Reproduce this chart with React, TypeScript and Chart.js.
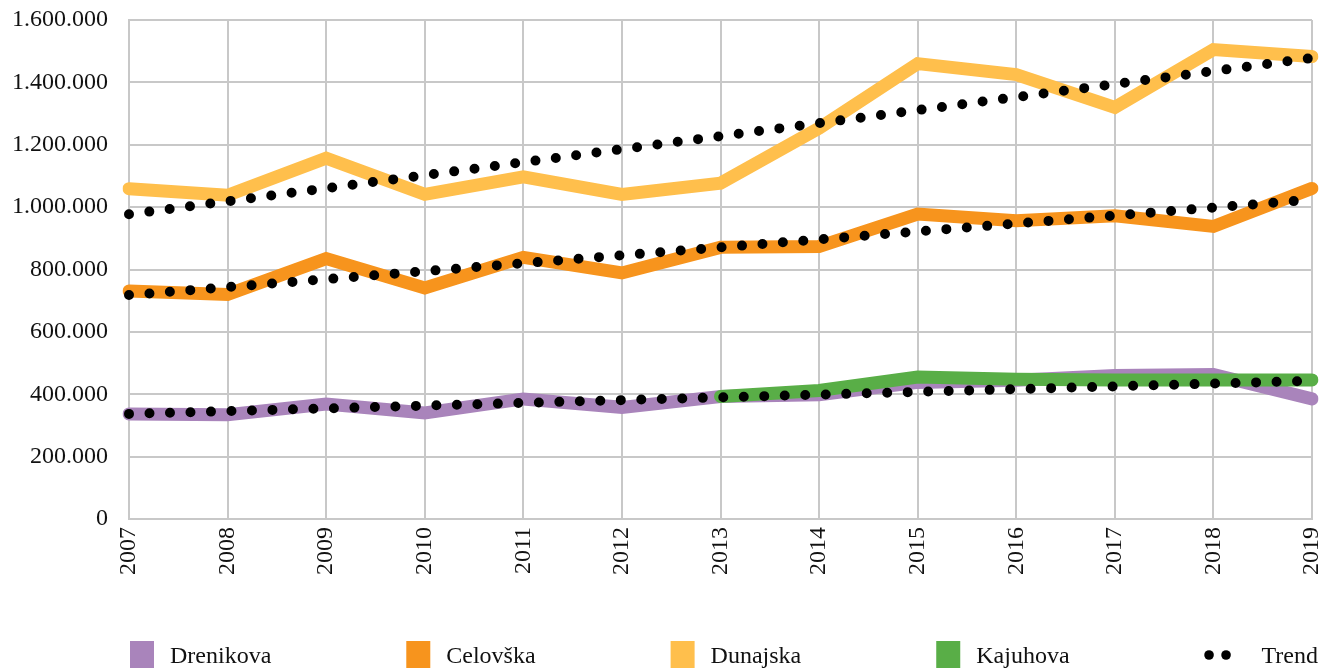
import React, { useEffect, useRef } from 'react';
import { Chart, registerables } from 'chart.js';

Chart.register(...registerables);

// ---- Data ----
const years = ['2007', '2008', '2009', '2010', '2011', '2012', '2013', '2014', '2015', '2016', '2017', '2018', '2019'];
const drenikova = [337000, 334000, 369000, 340000, 385000, 358000, 393000, 398000, 438000, 445000, 460000, 463000, 385000];
const celovska = [731000, 720000, 835000, 741000, 839000, 789000, 871000, 874000, 978000, 956000, 972000, 938000, 1060000];
const dunajska = [1059000, 1038000, 1157000, 1041000, 1097000, 1041000, 1077000, 1253000, 1460000, 1425000, 1320000, 1505000, 1483000];
const kajuhova = [null, null, null, null, null, null, 393000, 412000, 455000, 448000, 446000, 446000, 446000];
// linear trend lines: start (2007) and end (2019) values
const trendDunajska = [977000, null, null, null, null, null, null, null, null, null, null, null, 1478000];
const trendCelovska = [718000, null, null, null, null, null, null, null, null, null, null, null, 1024000];
const trendDrenikova = [337000, null, null, null, null, null, null, null, null, null, null, null, 443000];

const yMin = 0;
const yMax = 1600000;
const yStep = 200000;

const seriesNames = ['Drenikova', 'Celovška', 'Dunajska', 'Kajuhova'];
const seriesColors = ['#A984BB', '#F7941D', '#FFBF4C', '#59AE47'];
const trendName = 'Trend';

const FONT = '"Liberation Serif", "Times New Roman", serif';
const TEXT = '#111111';
const GRID = '#C8C8C8';

const fmt = (v: number) => String(Math.round(v)).replace(/\B(?=(\d{3})+(?!\d))/g, '.');

const legendPlugin = {
  id: 'bottomLegend',
  afterDraw(chart: any) {
    const ctx = chart.ctx as CanvasRenderingContext2D;
    ctx.save();
    ctx.font = `24px ${FONT}`;
    const items = [
      ...seriesNames.map((n, i) => ({ label: n, color: seriesColors[i], kind: 'box', symW: 24, gap: 16 })),
      { label: trendName, color: '#000', kind: 'dots', symW: 27, gap: 30 },
    ];
    const widths = items.map((it) => it.symW + it.gap + ctx.measureText(it.label).width);
    const total = widths.reduce((a, b) => a + b, 0);
    const left = chart.chartArea.left + 1;
    const right = chart.width - 4;
    const spacing = (right - left - total) / (items.length - 1);
    let x = left;
    const top = 641;
    const baseline = 663;
    items.forEach((it, i) => {
      if (it.kind === 'box') {
        ctx.fillStyle = it.color;
        ctx.fillRect(x, top, 24, 27);
      } else {
        ctx.fillStyle = it.color;
        [4.5, 21.5].forEach((dx) => {
          ctx.beginPath();
          ctx.arc(x + dx, 655, 4.8, 0, Math.PI * 2);
          ctx.fill();
        });
      }
      ctx.fillStyle = TEXT;
      ctx.textBaseline = 'alphabetic';
      ctx.textAlign = 'left';
      ctx.fillText(it.label, x + it.symW + it.gap, baseline);
      x += widths[i] + spacing;
    });
    ctx.restore();
  },
};

const lineDs = (label: string, data: (number | null)[], color: string, order: number) => ({
  label,
  data,
  borderColor: color,
  backgroundColor: color,
  borderWidth: 13,
  borderCapStyle: 'round' as const,
  borderJoinStyle: 'miter' as const,
  pointRadius: 0,
  pointHoverRadius: 0,
  tension: 0,
  fill: false,
  spanGaps: false,
  order,
});

const trendDs = (label: string, data: (number | null)[]) => ({
  label,
  data,
  borderColor: '#000000',
  backgroundColor: '#000000',
  borderWidth: 10,
  borderCapStyle: 'round' as const,
  borderDash: [0, 20.5],
  pointRadius: 0,
  pointHoverRadius: 0,
  tension: 0,
  fill: false,
  spanGaps: true,
  order: 0,
});

export default function App() {
  const ref = useRef<HTMLCanvasElement | null>(null);

  useEffect(() => {
    if (!ref.current) return;
    const chart = new Chart(ref.current, {
      type: 'line',
      data: {
        labels: years,
        datasets: [
          trendDs('Trend Dunajska', trendDunajska),
          trendDs('Trend Celovška', trendCelovska),
          trendDs('Trend Drenikova', trendDrenikova),
          lineDs(seriesNames[3], kajuhova, seriesColors[3], 1),
          lineDs(seriesNames[2], dunajska, seriesColors[2], 2),
          lineDs(seriesNames[1], celovska, seriesColors[1], 3),
          lineDs(seriesNames[0], drenikova, seriesColors[0], 4),
        ] as any,
      },
      options: {
        animation: false,
        responsive: false,
        layout: { padding: { top: 20, right: 10, left: 0, bottom: 0 } },
        plugins: {
          legend: { display: false },
          tooltip: { enabled: false },
        },
        scales: {
          x: {
            offset: false,
            grid: { color: GRID, lineWidth: 2, drawTicks: false },
            border: { color: GRID, width: 2 },
            ticks: {
              color: TEXT,
              font: { family: FONT, size: 24 },
              minRotation: 90,
              maxRotation: 90,
              padding: 8,
              autoSkip: false,
            },
            afterFit: (scale: any) => {
              scale.height = 149;
              scale.paddingRight = 0;
              scale.paddingLeft = 0;
            },
          },
          y: {
            min: yMin,
            max: yMax,
            grid: { color: GRID, lineWidth: 2, drawTicks: false },
            border: { color: GRID, width: 2 },
            ticks: {
              stepSize: yStep,
              color: TEXT,
              font: { family: FONT, size: 24 },
              padding: 21,
              callback: (v: any) => fmt(Number(v)),
            },
            afterFit: (scale: any) => {
              scale.width = 129;
              scale.paddingTop = 0;
              scale.paddingBottom = 0;
            },
          },
        },
      },
      plugins: [legendPlugin],
    });
    return () => chart.destroy();
  }, []);

  return (
    <div style={{ position: 'fixed', left: 0, top: 0, width: 1322, height: 668, background: '#fff' }}>
      <canvas ref={ref} width={1322} height={668} style={{ display: 'block' }} />
    </div>
  );
}
